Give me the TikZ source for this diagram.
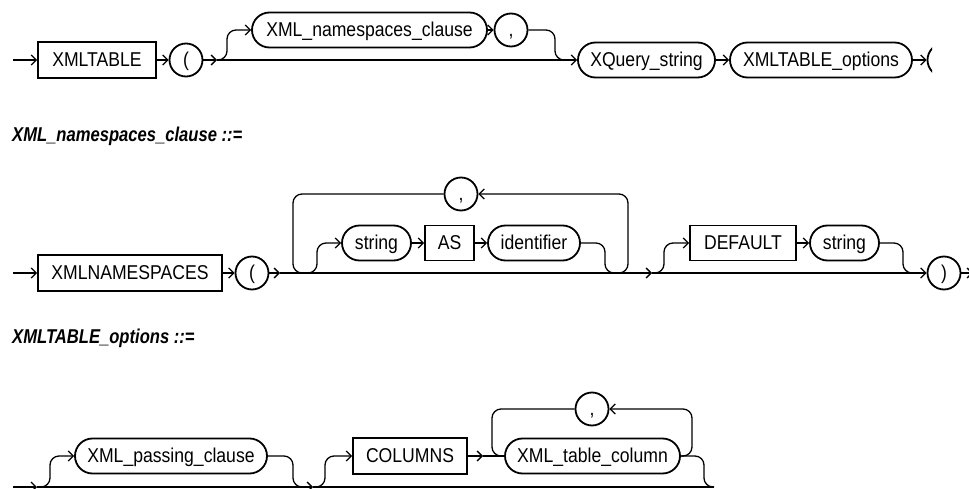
\documentclass[tikz,border=0pt]{standalone}
\usepackage{fontspec}
\setmainfont{Liberation Sans}
\newfontfamily\nodefont{Liberation Sans}[FakeStretch=0.88]
\newfontfamily\ttlfont{Liberation Sans}[FakeStretch=0.83]
\usetikzlibrary{arrows.meta}
\tikzset{
 conn/.style={line width=1.3pt, rounded corners=9pt},
 arr/.style={-{Straight Barb[length=5pt,width=10pt]}},
 basebox/.style={draw, line width=1.8pt, inner sep=0pt, font=\nodefont\fontsize{20}{22}\selectfont, text height=13.5pt, text depth=0.5pt},
 term/.style={basebox, rectangle, minimum height=36pt},
 nonterm/.style={basebox, rectangle, rounded corners=17.5pt, minimum height=35pt},
 sym/.style={basebox, circle, minimum size=33pt},
 ttl/.style={font=\ttlfont\bfseries\itshape\fontsize{20}{22}\selectfont, anchor=base west, inner sep=0pt},
}
\begin{document}
\begin{tikzpicture}[x=1pt,y=-1pt]
\clip (0,0) rectangle (969,489);
% ---------- Row 1 ----------
\node[term, minimum width=118pt] (kw1) at (97,60) {XMLTABLE};
\node[sym] (lp1) at (186,60) {(};
\node[nonterm, minimum width=235pt] (ns) at (369.5,30) {XML\_namespaces\_clause};
\node[sym] (cm1) at (511,30) {,};
\node[nonterm, minimum width=137pt] (xq) at (646.5,60) {XQuery\_string};
\node[nonterm, minimum width=182pt] (xo) at (821,60) {XMLTABLE\_options};
\begin{scope}
\clip (0,0) rectangle (932,100);
\node[sym] (lp2) at (944,60) {(};
\end{scope}
\coordinate (s1) at (13,60);
\coordinate (j1) at (217,60);
\draw[conn,arr] (s1) -- (kw1);
\draw[conn,arr] (kw1) -- (lp1);
\draw[conn,arr] (lp1) -- (j1);
\draw[conn,arr] (j1) -- (xq.west);
\draw[conn,arr] (j1) -- (227,60) -- (227,30) -- (ns.west);
\draw[conn,arr] (ns) -- (cm1);
\draw[conn] (cm1.east) -- (555,30) -- (555,60) -- (565,60);
\draw[conn,arr] (xq) -- (xo);
\draw[conn,arr] (xo) -- (lp2);
% ---------- Row 2 ----------
\node[ttl] (t1) at (12,142) {XML\_namespaces\_clause ::=};
\node[term, minimum width=184pt] (kw2) at (130,273) {XMLNAMESPACES};
\node[sym] (lp3) at (252,273) {(};
\node[sym] (cm2) at (461,194) {,};
\node[nonterm, minimum width=69pt] (st1) at (376.5,243) {string};
\node[term, minimum width=49pt, minimum height=35pt] (as) at (449.5,243) {AS};
\node[nonterm, minimum width=92pt] (id) at (534,243) {identifier};
\node[term, minimum width=106pt, minimum height=35pt] (def) at (743,243) {DEFAULT};
\node[nonterm, minimum width=69pt] (st2) at (844.5,243) {string};
\node[sym] (rp) at (944,273) {)};
\coordinate (s2) at (13,273);
\coordinate (j2) at (280,273);
\coordinate (j3) at (652,273);
\coordinate (e2) at (973,273);
\draw[conn,arr] (s2) -- (kw2);
\draw[conn,arr] (kw2) -- (lp3);
\draw[conn,arr] (lp3) -- (j2);
\draw[conn,arr] (j2) -- (j3);
\draw[conn,arr] (j3) -- (rp);
\draw[conn,arr] (rp) -- (e2);
\draw[conn,arr] (300,273) -- (317,273) -- (317,243) -- (st1.west);
\draw[conn] (cm2.west) -- (293,194) -- (293,273) -- (305,273);
\draw[conn,arr] (st1) -- (as);
\draw[conn,arr] (as) -- (id);
\draw[conn,arr] (id.east) -- (605,243) -- (605,273) -- (628,273) -- (628,194) -- (cm2.east);
\draw[conn,arr] (j3) -- (664,273) -- (664,243) -- (def.west);
\draw[conn,arr] (def) -- (st2);
\draw[conn] (st2.east) -- (903,243) -- (903,273) -- (915,273);
% ---------- Row 3 ----------
\node[ttl] (t2) at (12,343) {XMLTABLE\_options ::=};
\node[nonterm, minimum width=192pt] (pc) at (171,456) {XML\_passing\_clause};
\node[term, minimum width=114pt] (cols) at (410,456) {COLUMNS};
\node[nonterm, minimum width=175pt] (tc) at (592.5,456) {XML\_table\_column};
\node[sym] (cm3) at (592,409) {,};
\coordinate (s3) at (13,487);
\coordinate (j4) at (37,487);
\coordinate (j5) at (313,487);
\coordinate (e3) at (714,487);
\coordinate (j6) at (483,456);
\draw[conn,arr] (s3) -- (j4);
\draw[conn,arr] (j4) -- (j5);
\draw[conn] (j5) -- (e3);
\draw[conn,arr] (j4) -- (50,487) -- (50,456) -- (pc.west);
\draw[conn] (pc.east) -- (293,456) -- (293,487) -- (305,487);
\draw[conn,arr] (j5) -- (325,487) -- (325,456) -- (cols.west);
\draw[conn,arr] (cols) -- (j6);
\draw[conn] (j6) -- (tc.west);
\draw[conn] (cm3.west) -- (492,409) -- (492,456) -- (502,456);
\draw[conn,arr] (tc.east) -- (692,456) -- (692,409) -- (cm3.east);
\draw[conn] (tc.east) -- (704,456) -- (704,487) -- (714,487);
\end{tikzpicture}
\end{document}
